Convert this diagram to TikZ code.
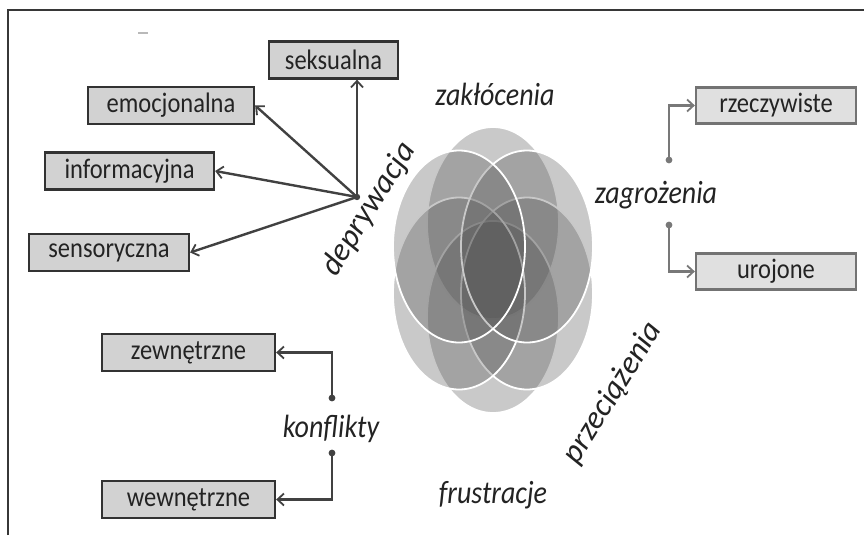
\documentclass[tikz,border=0pt]{standalone}
\usepackage{fontspec}
\usepackage{graphicx}
\setmainfont{Carlito}
\usetikzlibrary{arrows.meta}
\definecolor{boxfill}{RGB}{210,210,210}
\definecolor{boxdraw}{RGB}{50,50,50}
\definecolor{rboxfill}{RGB}{224,224,224}
\definecolor{rboxdraw}{RGB}{115,115,115}
\definecolor{txt}{RGB}{35,35,35}
\definecolor{conL}{RGB}{65,65,65}
\definecolor{conR}{RGB}{120,120,120}
\definecolor{frame}{RGB}{55,55,55}
\newcommand{\tallt}[1]{\scalebox{1}[1.15]{#1}}
\begin{document}
\begin{tikzpicture}[x=1pt,y=-1pt,
  lbox/.style={draw=boxdraw, fill=boxfill, line width=2.3pt, inner sep=0pt,
    minimum height=37pt, text=txt, font=\fontsize{24.5}{24.5}\selectfont},
  rbox/.style={draw=rboxdraw, fill=rboxfill, line width=2.3pt, inner sep=0pt,
    minimum height=36pt, minimum width=160pt, text=txt, font=\fontsize{24.5}{24.5}\selectfont},
  lab/.style={text=txt, inner sep=0pt, font=\fontsize{28}{28}\selectfont\itshape},
  rlab/.style={text=txt, inner sep=0pt, font=\fontsize{32}{32}\selectfont\itshape, rotate=58},
  conleft/.style={draw=conL, line width=2.4pt, -{Straight Barb[length=6.5pt,width=12pt,line width=1.8pt]}},
  conright/.style={draw=conR, line width=2.4pt, -{Straight Barb[length=6.5pt,width=12pt,line width=1.8pt]}},
  petal/.style={fill=black!70, fill opacity=0.3, draw=white, draw opacity=1, line width=1.8pt},
]
\useasboundingbox (0,0) rectangle (864,535);
% frame
\draw[frame, line width=2.5pt] (8,535) -- (8,10) -- (864,10);
\draw[gray!55, line width=1.5pt] (138,33) -- (148,33);

% flower
\path[petal] (493,223) ellipse [x radius=66pt, y radius=96pt];
\path[petal] (493,317) ellipse [x radius=66pt, y radius=96pt];
\path[petal] (527,293.5) ellipse [x radius=66pt, y radius=96pt];
\path[petal] (459,293.5) ellipse [x radius=66pt, y radius=96pt];
\path[petal] (527,246.5) ellipse [x radius=66pt, y radius=96pt];
\path[petal] (459,246.5) ellipse [x radius=66pt, y radius=96pt];

% boxes
\node[lbox, minimum width=129pt] (seks) at (333.5,60) {\tallt{seksualna}};
\node[lbox, minimum width=166pt] (emo) at (171,105.5) {\tallt{emocjonalna}};
\node[lbox, minimum width=169pt] (inf) at (129.5,171) {\tallt{informacyjna}};
\node[lbox, minimum width=160pt] (sens) at (109,252.5) {\tallt{sensoryczna}};
\node[lbox, minimum width=173pt] (zew) at (188.5,352.5) {\tallt{zewnętrzne}};
\node[lbox, minimum width=173pt] (wew) at (188.5,499.5) {\tallt{wewnętrzne}};
\node[rbox] (rz) at (776,105.5) {\tallt{rzeczywiste}};
\node[rbox] (uro) at (776,271.5) {\tallt{urojone}};

% labels
\node[lab, anchor=base] (zak) at (495,105) {\tallt{zakłócenia}};
\node[lab, anchor=base] (zag) at (656,203) {\tallt{zagrożenia}};
\node[lab, anchor=base] (konf) at (331,437) {\tallt{konflikty}};
\node[lab, anchor=base] (frus) at (493,503) {\tallt{frustracje}};
\node[rlab] (dep) at (369,209) {deprywacja};
\node[rlab] (prz) at (613,393) {przeciążenia};

% deprywacja connectors
\coordinate (hub) at (357,197);
\fill[conL] (hub) circle (3.2pt);
\draw[conleft] (hub) -- (hub |- seks.south);
\draw[conleft] (hub) -- (emo.east);
\draw[conleft] (hub) -- (inf.east);
\draw[conleft] (hub) -- (sens.east);

% konflikty connectors
\coordinate (k1) at (332,398);
\coordinate (k2) at (332,453);
\fill[conL] (k1) circle (3.4pt);
\fill[conL] (k2) circle (3.4pt);
\draw[conleft] (k1) |- (zew.east);
\draw[conleft] (k2) |- (wew.east);

% zagrozenia connectors
\coordinate (z1) at (669,160);
\coordinate (z2) at (669,225);
\fill[conR] (z1) circle (3.4pt);
\fill[conR] (z2) circle (3.4pt);
\draw[conright] (z1) |- (rz.west);
\draw[conright] (z2) |- (uro.west);
\end{tikzpicture}
\end{document}
